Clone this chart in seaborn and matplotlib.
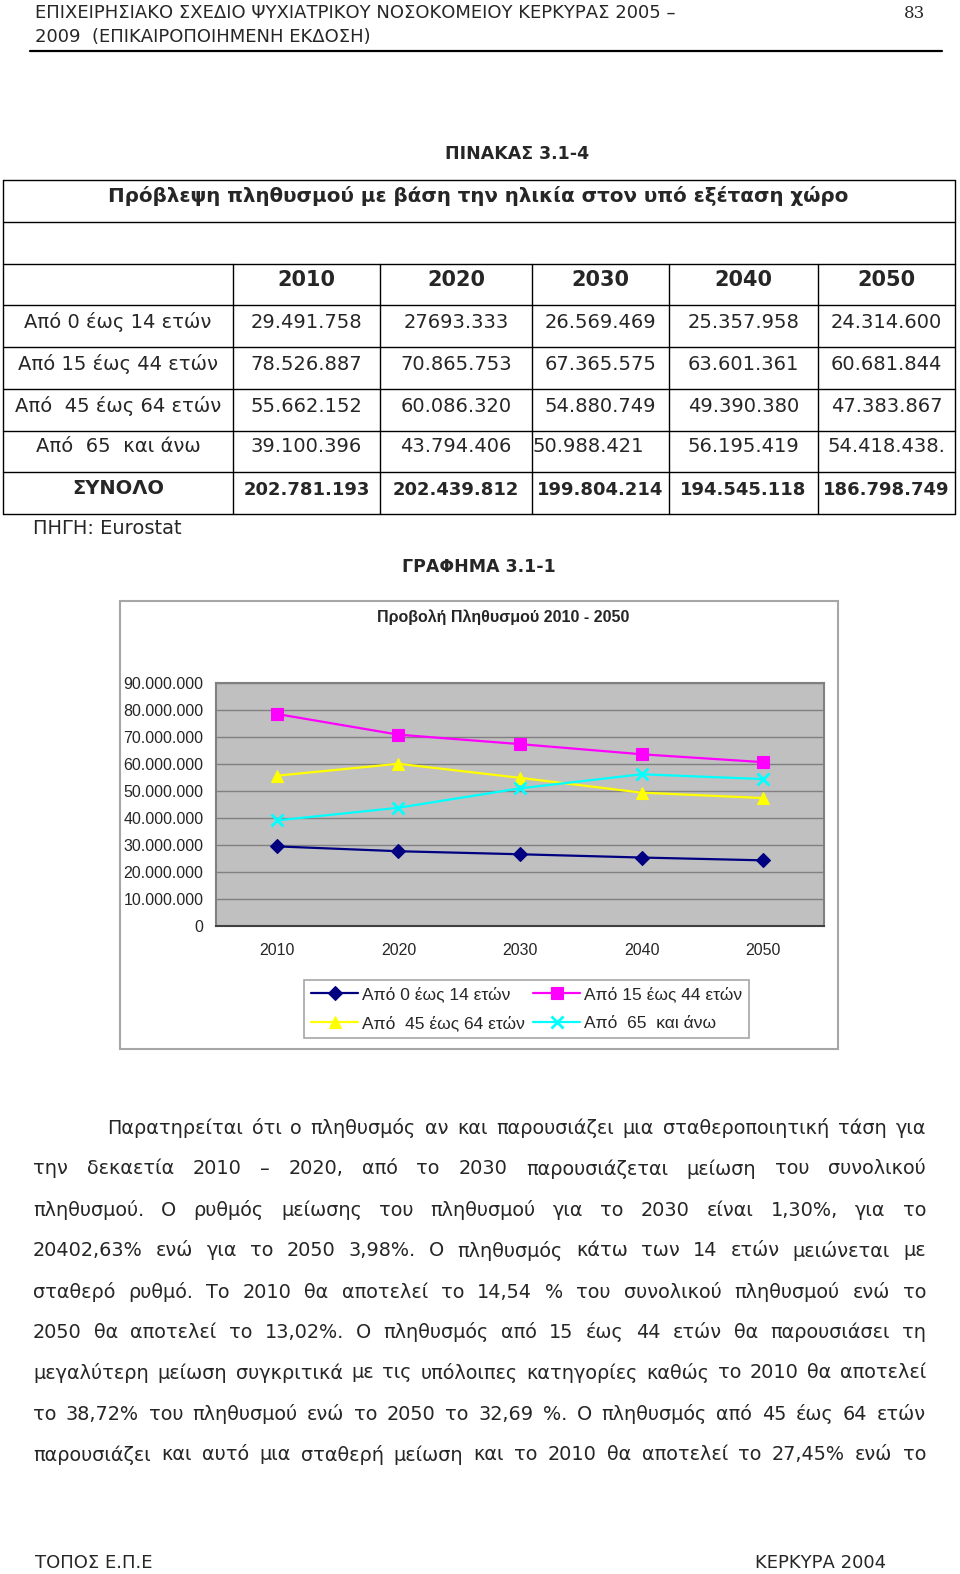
import numpy as np
import matplotlib
matplotlib.use('Agg')
import matplotlib.pyplot as plt
import matplotlib.ticker as mticker
from matplotlib.patches import Rectangle
import seaborn as sns

# --- data -------------------------------------------------------------
years = ['2010', '2020', '2030', '2040', '2050']
groups = ['Από 0 έως 14 ετών', 'Από 15 έως 44 ετών',
          'Από  45 έως 64 ετών', 'Από  65  και άνω']
age_0_14 = [29491758, 27693333, 26569469, 25357958, 24314600]
age_15_44 = [78526887, 70865753, 67365575, 63601361, 60681844]
age_45_64 = [55662152, 60086320, 54880749, 49390380, 47383867]
age_65 = [39100396, 43794406, 50988421, 56195419, 54418438]

# table cells as printed in the document
cells_0_14 = ['29.491.758', '27693.333', '26.569.469', '25.357.958', '24.314.600']
cells_15_44 = ['78.526.887', '70.865.753', '67.365.575', '63.601.361', '60.681.844']
cells_45_64 = ['55.662.152', '60.086.320', '54.880.749', '49.390.380', '47.383.867']
cells_65 = ['39.100.396', '43.794.406', '50.988.421', '56.195.419', '54.418.438.']
totals = ['202.781.193', '202.439.812', '199.804.214', '194.545.118', '186.798.749']

header = ['ΕΠΙΧΕΙΡΗΣΙΑΚΟ ΣΧΕΔΙΟ ΨΥΧΙΑΤΡΙΚΟΥ ΝΟΣΟΚΟΜΕΙΟΥ ΚΕΡΚΥΡΑΣ 2005 –',
          '2009  (ΕΠΙΚΑΙΡΟΠΟΙΗΜΕΝΗ ΕΚΔΟΣΗ)']
body = [
    'Παρατηρείται ότι ο πληθυσμός αν και παρουσιάζει μια σταθεροποιητική τάση για',
    'την δεκαετία 2010 – 2020, από το 2030 παρουσιάζεται μείωση του συνολικού',
    'πληθυσμού. Ο ρυθμός μείωσης του πληθυσμού για το 2030 είναι 1,30%, για το',
    '20402,63% ενώ για το 2050 3,98%. Ο πληθυσμός κάτω των 14 ετών μειώνεται με',
    'σταθερό ρυθμό. Το 2010 θα αποτελεί το 14,54 % του συνολικού πληθυσμού ενώ το',
    '2050 θα αποτελεί το 13,02%. Ο πληθυσμός από 15 έως 44 ετών  θα παρουσιάσει τη',
    'μεγαλύτερη μείωση συγκριτικά με τις υπόλοιπες κατηγορίες καθώς το 2010 θα αποτελεί',
    'το 38,72% του πληθυσμού ενώ το 2050 το 32,69 %. Ο πληθυσμός από 45 έως 64 ετών',
    'παρουσιάζει και αυτό μια σταθερή μείωση και το 2010 θα αποτελεί το 27,45% ενώ το',
]

colors = ['#000080', '#FF00FF', '#FFFF00', '#00FFFF']
marks = ['D', 's', '^', 'x']
msizes = [7.5, 8, 9, 9]

sns.set_style('white')
plt.rcParams['font.family'] = ['DejaVu Sans']

W, H = 960, 1574
fig = plt.figure(figsize=(W / 100, H / 100), dpi=100)
page = fig.add_axes([0, 0, 1, 1])
page.set_xlim(0, W)
page.set_ylim(H, 0)
page.axis('off')

# page header
page.text(35, 13, header[0], fontsize=13, va='center')
page.text(35, 37, header[1], fontsize=13, va='center')
page.text(925, 13, '83', fontsize=12, va='center', ha='right', family='DejaVu Serif')
page.plot([30, 942], [51, 51], color='black', lw=1.6)

page.text(517, 154, 'ΠΙΝΑΚΑΣ 3.1-4', fontsize=12.5, weight='bold', ha='center', va='center')

# table grid
xs = [3, 233, 380, 532, 669, 818, 955]
ys = [180, 222, 264, 305, 347, 389, 431, 472, 514]
for y in ys:
    page.plot([xs[0], xs[-1]], [y, y], color='black', lw=1)
for x in (xs[0], xs[-1]):
    page.plot([x, x], [ys[0], ys[-1]], color='black', lw=1)
for x in xs[1:-1]:
    page.plot([x, x], [ys[2], ys[-1]], color='black', lw=1)

page.text(478, 196, 'Πρόβλεψη πληθυσμού με βάση την ηλικία στον υπό εξέταση χώρο',
          fontsize=14.3, weight='bold', ha='center', va='center')
mids = [(xs[i] + xs[i + 1]) / 2 for i in range(6)]
for j, yr in enumerate(years):
    page.text(mids[j + 1], 280, yr, fontsize=15, weight='bold', ha='center', va='center')

rows = [cells_0_14, cells_15_44, cells_45_64, cells_65]
row_y = [322, 364, 406, 447]
for i, (lab, vals) in enumerate(zip(groups, rows)):
    page.text(mids[0], row_y[i], lab, fontsize=14, ha='center', va='center')
    for j, v in enumerate(vals):
        if v == '50.988.421':
            page.text(xs[j + 1] + 1, row_y[i], v, fontsize=14, ha='left', va='center')
        else:
            page.text(mids[j + 1], row_y[i], v, fontsize=14, ha='center', va='center')
page.text(mids[0], 488, 'ΣΥΝΟΛΟ', fontsize=14, weight='bold', ha='center', va='center')
for j, v in enumerate(totals):
    page.text(mids[j + 1], 490, v, fontsize=13, weight='bold', ha='center', va='center')
page.text(33, 529, 'ΠΗΓΗ: Eurostat', fontsize=14, va='center')

page.text(479, 567, 'ΓΡΑΦΗΜΑ 3.1-1', fontsize=12.5, weight='bold', ha='center', va='center')

# chart frame
page.add_patch(Rectangle((120, 601), 718, 448, facecolor='white',
                         edgecolor='#A6A6A6', lw=1.5))
page.text(503, 617, 'Προβολή Πληθυσμού 2010 - 2050', fontsize=11.5, weight='bold',
          ha='center', va='center', family='Liberation Sans')

# chart
px0, px1, py0, py1 = 216, 824, 683, 926
ax = fig.add_axes([px0 / W, 1 - py1 / H, (px1 - px0) / W, (py1 - py0) / H])
ax.set_facecolor('#C0C0C0')
series = [age_0_14, age_15_44, age_45_64, age_65]
for vals, lab, c, m, ms in zip(series, groups, colors, marks, msizes):
    sns.lineplot(x=years, y=vals, ax=ax, color=c, marker=m, markersize=ms,
                 markeredgecolor=c, markeredgewidth=2 if m == 'x' else 0.8,
                 lw=1.6, label=lab, legend=False)

ax.set_xlim(-0.5, 4.5)
ax.set_ylim(0, 90000000)
ax.set_yticks(np.arange(0, 90000001, 10000000))
ax.yaxis.set_major_formatter(mticker.FuncFormatter(
    lambda v, p: f'{int(v):,}'.replace(',', '.')))
ax.set_xticks(range(len(years)))
ax.set_xticks(np.arange(-0.5, 5, 1), minor=True)
ax.tick_params(axis='x', which='major', length=0, pad=12)
ax.tick_params(axis='x', which='minor', length=5, color='#808080', direction='out')
ax.tick_params(axis='y', length=4, color='#808080', direction='out', pad=5)
for lbl in ax.get_xticklabels() + ax.get_yticklabels():
    lbl.set_fontsize(11.5)
    lbl.set_family('Liberation Sans')
ax.yaxis.grid(True, color='#808080', lw=1)
ax.xaxis.grid(False)
ax.set_axisbelow(True)
ax.set_xlabel('')
ax.set_ylabel('')
for s in ax.spines.values():
    s.set_visible(True)
    s.set_color('#808080')
    s.set_linewidth(1.5)
ax.spines['bottom'].set_color('#404040')

h, l = ax.get_legend_handles_labels()
order = [0, 2, 1, 3]
leg = ax.legend([h[i] for i in order], [l[i] for i in order], ncol=2,
                loc='center', bbox_to_anchor=((303 + 750) / 2 / W, 1 - (980 + 1038) / 2 / H),
                bbox_transform=fig.transFigure, frameon=True, fancybox=False,
                edgecolor='#A6A6A6', framealpha=1, handlelength=2.7,
                handletextpad=0.2, columnspacing=0.5, labelspacing=0.75,
                borderpad=0.4, prop={'family': 'Liberation Sans', 'size': 12.5})
leg.get_frame().set_linewidth(1.2)

# justified paragraph
renderer = fig.canvas.get_renderer()
body_y = [1128, 1169, 1210, 1251, 1292, 1332, 1373, 1414, 1455]
left, right = 33, 926
fs = 15
probe = page.text(0, 0, body[6], fontsize=fs)
wmax = probe.get_window_extent(renderer).width
probe.remove()
if wmax > right - left - 25:
    fs = fs * (right - left - 25) / wmax
for k, line in enumerate(body):
    x0 = 107 if k == 0 else left
    words = line.split()
    txts = [page.text(0, body_y[k], w, fontsize=fs, va='center') for w in words]
    widths = [t.get_window_extent(renderer).width for t in txts]
    gap = (right - x0 - sum(widths)) / (len(words) - 1)
    x = x0
    for t, w in zip(txts, widths):
        t.set_x(x)
        x += w + gap

# footer
page.text(35, 1563, 'ΤΟΠΟΣ Ε.Π.Ε', fontsize=13, va='center')
page.text(886, 1563, 'ΚΕΡΚΥΡΑ 2004', fontsize=13, va='center', ha='right')

fig.savefig('out.png', dpi=100)
